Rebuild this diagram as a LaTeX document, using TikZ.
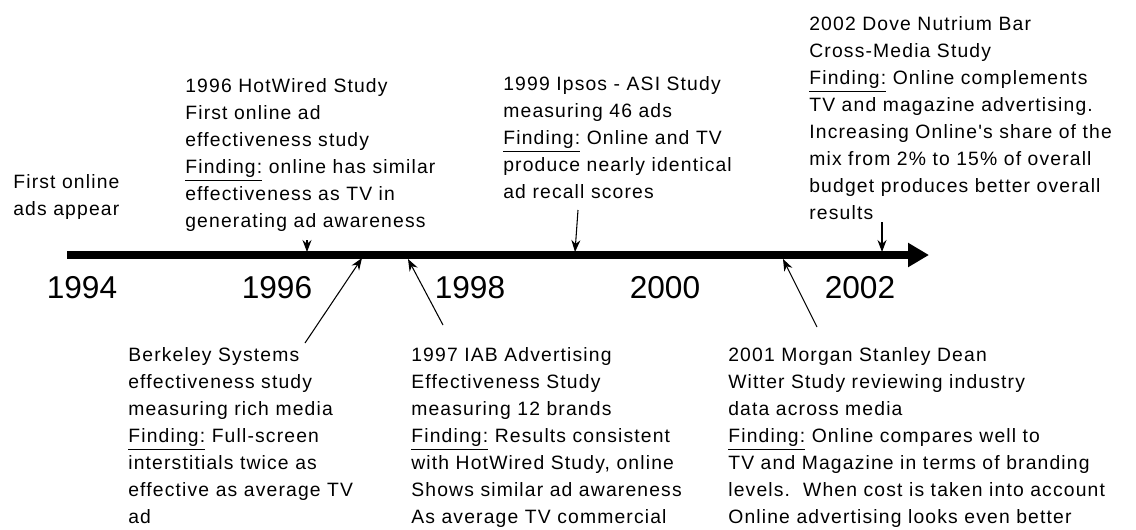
\documentclass[tikz,border=0pt]{standalone}
\usepackage{fontspec}
\setmainfont{Liberation Sans}
\newfontfamily\notefont[LetterSpace=6]{Liberation Sans}
\usetikzlibrary{arrows.meta}

\tikzset{
  note/.style={anchor=north west, inner sep=0pt, align=left,
    font=\notefont\fontsize{11}{15.4}\selectfont},
  year/.style={inner sep=0pt, font=\fontsize{18}{18}\selectfont},
  timeline/.style={line width=4pt, -{Triangle[length=4.2mm,width=4.6mm]}},
  pointer/.style={line width=0.6pt, -{Stealth[length=2.4mm,width=1.8mm]}},
}

\begin{document}
\begin{tikzpicture}[x=0.02cm,y=-0.02cm]
      \useasboundingbox (0,0) rectangle (1136,529);
      % the time line
      \coordinate (start) at (67,255);
      \coordinate (end) at (929,255);
      \draw[timeline] (start) -- (end);
      % years under the line
      \foreach \yr/\xx in {1994/82,1996/277,1998/470,2000/665,2002/860}
        \node[year] (y\yr) at (\xx,288) {\yr};
      % studies above the line
      \node[note] (first) at (13,174) {First online\\ads appear};
      \node[note] (hotwired) at (185,78) {1996 HotWired Study\\First online ad\\effectiveness study\\\underline{Finding:} online has similar\\effectiveness as TV in\\generating ad awareness};
      \node[note] (ipsos) at (503,76) {1999 Ipsos - ASI Study\\measuring 46 ads\\\underline{Finding:} Online and TV\\produce nearly identical\\ad recall scores};
      \node[note] (dove) at (809,16) {2002 Dove Nutrium Bar\\Cross-Media Study\\\underline{Finding:} Online complements\\TV and magazine advertising.\\Increasing Online's share of the\\mix from 2\% to 15\% of overall\\budget produces better overall\\results};
      % studies under the line
      \node[note] (berkeley) at (128,347) {Berkeley Systems\\effectiveness study\\measuring rich media\\\underline{Finding:} Full-screen\\interstitials twice as\\effective as average TV\\ad};
      \node[note] (iab) at (411,347) {1997 IAB Advertising\\Effectiveness Study\\measuring 12 brands\\\underline{Finding:} Results consistent\\with HotWired Study, online\\Shows similar ad awareness\\As average TV commercial};
      \node[note] (morgan) at (728,347) {2001 Morgan Stanley Dean\\Witter Study reviewing industry\\data across media\\\underline{Finding:} Online compares well to\\TV and Magazine in terms of branding\\levels.\ \ When cost is taken into account\\Online advertising looks even better};
      % arrow ends
      \coordinate (hotwiredFrom) at (307,240);
      \coordinate (hotwiredTo) at (307,252);
      \coordinate (ipsosFrom) at (578,210);
      \coordinate (ipsosTo) at (575,252);
      \coordinate (doveFrom) at (882,222);
      \coordinate (doveTo) at (882,252);
      \coordinate (berkeleyFrom) at (305,343);
      \coordinate (berkeleyTo) at (362,258);
      \coordinate (iabFrom) at (443,325);
      \coordinate (iabTo) at (408,259);
      \coordinate (morganFrom) at (817,327);
      \coordinate (morganTo) at (783,259);
      % arrows to the line
      \draw[pointer] (hotwiredFrom) -- (hotwiredTo);
      \draw[pointer] (ipsosFrom) -- (ipsosTo);
      \draw[pointer] (doveFrom) -- (doveTo);
      \draw[pointer] (berkeleyFrom) -- (berkeleyTo);
      \draw[pointer] (iabFrom) -- (iabTo);
      \draw[pointer] (morganFrom) -- (morganTo);
    \end{tikzpicture}
\end{document}
